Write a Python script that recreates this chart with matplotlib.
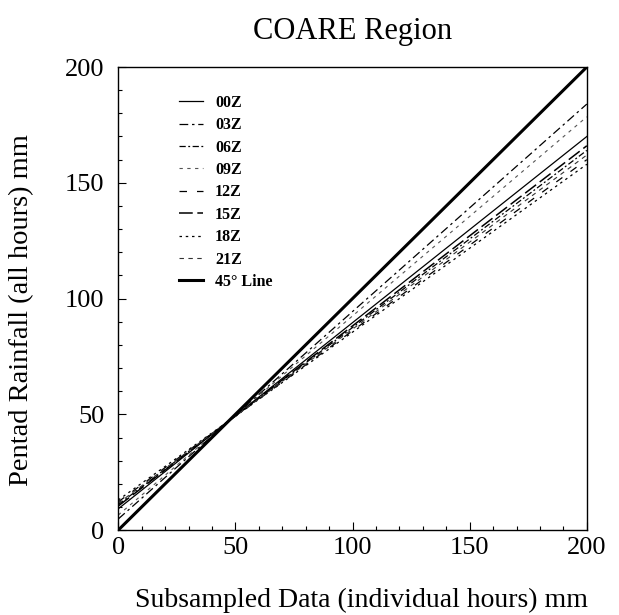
import matplotlib
matplotlib.use("Agg")
import matplotlib.pyplot as plt
from matplotlib.ticker import MultipleLocator

plt.rcParams["font.family"] = ["Liberation Serif", "DejaVu Serif"]

# Regression lines: value at x=0 and at x=200
hours = ["00Z", "03Z", "06Z", "09Z", "12Z", "15Z", "18Z", "21Z"]
start_vals = [9.2, 4.8, 11.0, 6.5, 12.2, 10.4, 13.0, 11.6]
end_vals = [170.0, 184.0, 164.0, 178.5, 160.0, 166.0, 158.0, 162.0]
x_ends = [0, 200]

# 45 degree reference line
ref_x = [0, 200]
ref_y = [0, 200]

styles = {
    "00Z": dict(color="black", lw=0.9, ls="-"),
    "03Z": dict(color="black", lw=0.9, ls=(0, (7, 3, 2, 3))),
    "06Z": dict(color="black", lw=0.9, ls=(0, (5, 2, 1.5, 2))),
    "09Z": dict(color="#555555", lw=0.8, ls=(0, (3, 4))),
    "12Z": dict(color="black", lw=0.9, ls=(0, (6, 8))),
    "15Z": dict(color="black", lw=1.1, ls=(0, (9, 3))),
    "18Z": dict(color="black", lw=0.9, ls=(0, (2, 3))),
    "21Z": dict(color="#333333", lw=0.8, ls=(0, (4, 4))),
}

fig = plt.figure(figsize=(6.19, 6.15), dpi=100)
ax = fig.add_axes([0.191, 0.138, 0.757, 0.753])

for h, a, b in zip(hours, start_vals, end_vals):
    ax.plot(x_ends, [a, b], label=h, **styles[h])
ax.plot(ref_x, ref_y, color="black", lw=2.2, label="45° Line")

ax.set_xlim(0, 200)
ax.set_ylim(0, 200)
ax.xaxis.set_major_locator(MultipleLocator(50))
ax.yaxis.set_major_locator(MultipleLocator(50))
ax.xaxis.set_minor_locator(MultipleLocator(10))
ax.yaxis.set_minor_locator(MultipleLocator(10))
ax.tick_params(which="both", direction="in", width=0.8)
ax.tick_params(which="major", length=6, labelsize=19)
ax.tick_params(axis="x", which="major", pad=5)
ax.tick_params(axis="y", which="major", pad=10)
ax.tick_params(which="minor", length=3)
for sp in ax.spines.values():
    sp.set_linewidth(1.0)

ax.set_title("COARE Region", fontsize=22, pad=20)
ax.set_xlabel("Subsampled Data (individual hours) mm", fontsize=20)
ax.set_ylabel("Pentad Rainfall (all hours) mm", fontsize=20.5)
ax.xaxis.set_label_coords(0.52, -0.125)
ax.yaxis.set_label_coords(-0.18, 0.475)

leg = ax.legend(loc="upper left", bbox_to_anchor=(0.13, 0.94), frameon=False,
                prop={"family": "Liberation Serif", "weight": "bold", "size": 11.5},
                handlelength=1.5, handletextpad=0.75, labelspacing=0.4,
                borderpad=0, borderaxespad=0)

fig.savefig("out.png", dpi=100)
